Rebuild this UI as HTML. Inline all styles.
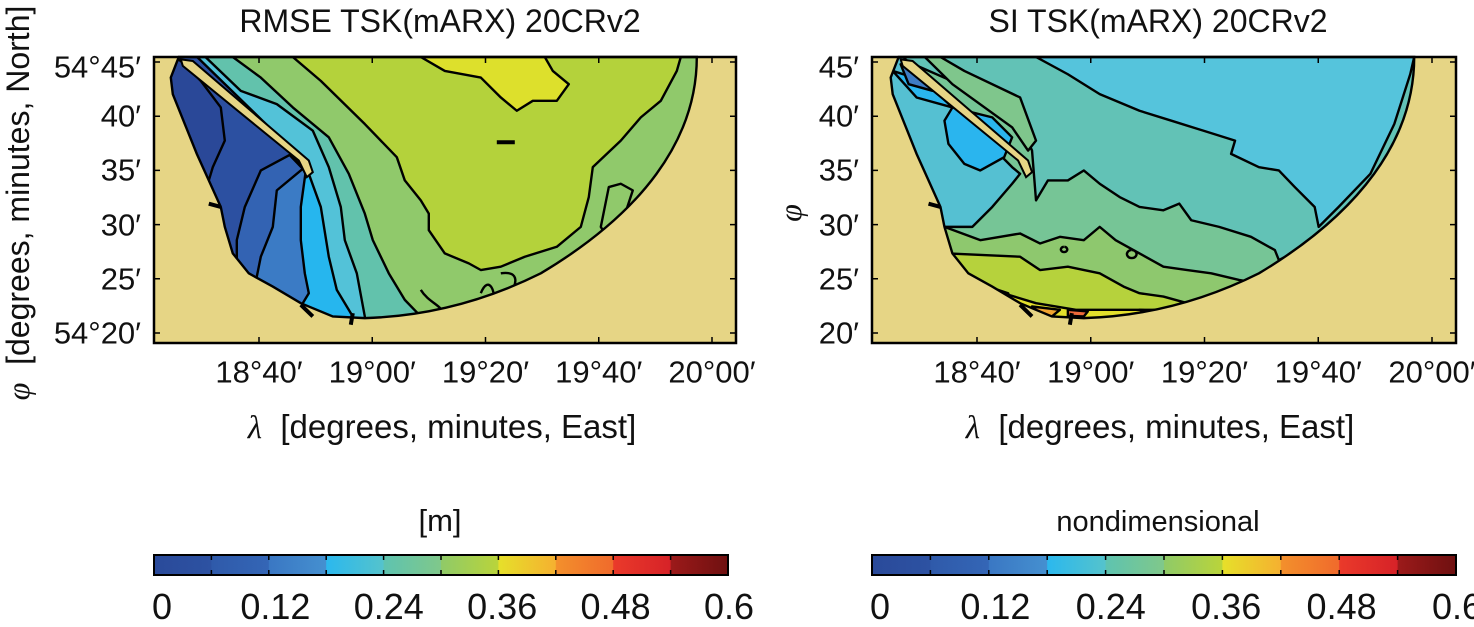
<!DOCTYPE html>
<html><head><meta charset="utf-8">
<style>
body{margin:0;background:#fff;width:1474px;height:623px;overflow:hidden;position:relative;font-family:"Liberation Sans","DejaVu Sans",sans-serif;color:#111}
.t{position:absolute;white-space:nowrap;font-size:25px;line-height:1}
svg{position:absolute;overflow:visible}
</style></head><body>
<div class="t" style="left:440px;top:5px;transform:translateX(-50%);font-size:32px">RMSE TSK(mARX) 20CRv2</div>
<div class="t" style="left:1158px;top:5px;transform:translateX(-50%);font-size:32px">SI TSK(mARX) 20CRv2</div>

<svg id="mapL" style="left:154px;top:57px" width="582" height="286" viewBox="33 48 1455 862" preserveAspectRatio="none">
<defs><clipPath id="seaL"><path id="seaPathL" d="M95,48 L1390,48 C1390,300 1250,520 1000,700 C850,790 700,830 560,835 L480,830 400,790 330,740 270,700 230,640 210,560 200,500 170,420 140,340 110,250 80,160 75,110 Z"/></clipPath></defs>
<rect x="33" y="48" width="1455" height="862" fill="#e6d585"/>
<g clip-path="url(#seaL)" stroke="#000" stroke-width="2.4" vector-effect="non-scaling-stroke" style="stroke-linejoin:round">
<rect x="0" y="0" width="1600" height="1000" fill="#90c96b" vector-effect="non-scaling-stroke"/>
<path fill="#b4d23b" vector-effect="non-scaling-stroke" d="M380,0 L380,48 450,120 560,250 640,350 660,420 700,480 720,520 720,570 760,640 820,670 850,690 900,680 960,650 1040,620 1100,560 1120,470 1130,380 1200,300 1250,230 1300,180 1340,90 1350,48 1350,0Z"/>
<path fill="#dde02c" vector-effect="non-scaling-stroke" d="M700,0 L700,48 760,90 850,110 900,170 940,210 980,180 1040,180 1070,130 1030,90 1010,48 1010,0Z"/>
<path fill="#62c2ac" vector-effect="non-scaling-stroke" d="M0,0 L230,0 230,48 300,110 380,200 470,290 520,400 560,520 580,600 620,700 660,780 700,830 700,1000 0,1000Z"/>
<path fill="#53c2d8" vector-effect="non-scaling-stroke" d="M0,0 L120,0 250,150 340,190 430,270 470,380 500,500 510,600 540,700 560,830 560,1000 0,1000Z"/>
<path fill="#26b6ee" vector-effect="non-scaling-stroke" d="M0,0 L100,0 420,400 450,500 470,650 490,750 530,830 530,1000 0,1000Z"/>
<path fill="#3b7bc5" vector-effect="non-scaling-stroke" d="M0,0 L100,0 412,395 400,500 400,600 410,700 420,760 400,800 0,1000Z"/>
<path fill="#3363b3" vector-effect="non-scaling-stroke" d="M0,0 L100,0 405,385 340,450 330,560 300,650 290,710 0,1000Z"/>
<path fill="#2c50a1" vector-effect="non-scaling-stroke" d="M0,0 L100,0 385,335 300,390 260,500 240,600 240,670 0,1000Z"/>
<path fill="#2a4898" vector-effect="non-scaling-stroke" d="M0,0 L100,60 150,120 200,200 210,300 180,380 170,420 0,1000Z"/>
<path fill="none" vector-effect="non-scaling-stroke" d="M700,750 C720,790 760,800 750,820 M850,760 C870,700 890,760 880,790 M900,700 C950,690 940,740 920,760"/>
<path fill="none" vector-effect="non-scaling-stroke" d="M1170,440 L1200,430 1230,450 1200,560 1170,600 1150,560 Z"/>
</g>
<path d="M100,55 L130,60 420,360 430,395 415,410 395,360 105,75Z" fill="#e6d585" stroke="#000" stroke-width="2" vector-effect="non-scaling-stroke"/>
<path d="M95,48 L1390,48 C1390,300 1250,520 1000,700 C850,790 700,830 560,835 L480,830 400,790 330,740 270,700 230,640 210,560 200,500 170,420 140,340 110,250 80,160 75,110 Z" fill="none" stroke="#000" stroke-width="2.4" vector-effect="non-scaling-stroke"/>
<path d="M890,305 L935,305 M400,795 L430,830 M530,820 L525,855 M170,490 L200,500" stroke="#000" stroke-width="4" vector-effect="non-scaling-stroke"/>
</svg>

<svg id="mapR" style="left:872px;top:57px" width="584" height="286" viewBox="28 48 1467 862" preserveAspectRatio="none">
<defs><clipPath id="seaR"><path d="M95,48 L1390,48 C1390,300 1250,520 1000,700 C850,790 700,830 560,835 L480,830 400,790 330,740 270,700 230,640 210,560 200,500 170,420 140,340 110,250 80,160 75,110 Z"/></clipPath></defs>
<rect x="28" y="48" width="1467" height="862" fill="#e6d585"/>
<g clip-path="url(#seaR)" stroke="#000" stroke-width="2.4" style="stroke-linejoin:round">
<rect x="0" y="0" width="1600" height="1000" fill="#e3df2c" vector-effect="non-scaling-stroke"/>
<path fill="#b6d23c" vector-effect="non-scaling-stroke" d="M0,0 L1600,0 1600,780 980,780 800,810 700,810 540,810 440,790 330,750 230,700 0,700Z"/>
<path fill="#8ec86e" vector-effect="non-scaling-stroke" d="M0,0 L1600,0 1600,740 980,740 900,770 820,790 760,770 700,760 660,740 600,700 520,680 450,690 400,650 220,640 0,640Z"/>
<path fill="#76c596" vector-effect="non-scaling-stroke" d="M0,0 L1600,0 1600,730 1000,730 950,720 880,700 820,690 760,680 700,640 640,600 600,560 560,600 500,590 450,610 400,580 300,600 210,560 0,560Z"/>
<path fill="#62c2b6" vector-effect="non-scaling-stroke" d="M0,0 L1600,0 1600,630 1140,610 1100,630 1050,660 1040,630 980,590 900,560 830,540 800,490 760,510 700,500 650,470 600,430 560,390 520,420 470,420 440,480 430,330 380,200 0,0Z"/>
<path fill="#55c4dc" vector-effect="non-scaling-stroke" d="M440,0 L440,48 520,100 600,160 700,210 780,240 860,270 940,300 930,340 1000,380 1050,390 1090,440 1140,500 1150,560 1200,500 1280,400 1340,250 1380,100 1390,48 1390,0Z"/>
<path fill="#7fc68c" vector-effect="non-scaling-stroke" d="M120,0 L200,48 260,90 400,170 440,300 420,330 380,260 230,130Z"/>
<path fill="#55c0d2" vector-effect="non-scaling-stroke" d="M0,0 L100,40 380,380 400,400 380,430 330,500 280,560 210,560 0,560Z"/>
<path fill="#2ab5ee" vector-effect="non-scaling-stroke" d="M230,200 L330,230 380,290 360,350 300,390 260,370 220,310 210,240Z"/>
<path fill="#2ab5ee" vector-effect="non-scaling-stroke" d="M80,90 L160,120 230,200 140,170Z"/>
<path fill="#3e7cc4" vector-effect="non-scaling-stroke" d="M100,70 L150,100 180,150 120,130Z"/>
<path fill="#ec6a3a" vector-effect="non-scaling-stroke" d="M320,740 L370,760 380,790 340,780Z M520,810 L570,815 560,830 520,828Z"/>
<path fill="#f0a430" vector-effect="non-scaling-stroke" d="M430,800 L500,810 480,830 440,825Z M700,810 L760,815 730,825Z"/>
<path fill="none" vector-effect="non-scaling-stroke" d="M510,620 a8,8 0 1,0 1,0 M680,630 a12,12 0 1,0 1,0"/>
</g>
<path d="M100,55 L130,60 420,360 430,395 415,410 395,360 105,75Z" fill="#e6d585" stroke="#000" stroke-width="2" vector-effect="non-scaling-stroke"/>
<path d="M95,48 L1390,48 C1390,300 1250,520 1000,700 C850,790 700,830 560,835 L480,830 400,790 330,740 270,700 230,640 210,560 200,500 170,420 140,340 110,250 80,160 75,110 Z" fill="none" stroke="#000" stroke-width="2.4" vector-effect="non-scaling-stroke"/>
<path d="M400,795 L430,830 M530,820 L525,855 M170,490 L200,500" stroke="#000" stroke-width="4" vector-effect="non-scaling-stroke"/>
</svg>

<div class="t" style="left:442px;top:410px;transform:translateX(-50%);font-size:33px"><i style="font-family:'Liberation Serif',serif">λ</i>&nbsp;&nbsp;[degrees, minutes, East]</div>
<div class="t" style="left:1160px;top:410px;transform:translateX(-50%);font-size:33px"><i style="font-family:'Liberation Serif',serif">λ</i>&nbsp;&nbsp;[degrees, minutes, East]</div>
<div class="t" style="left:18px;top:203px;transform:translate(-50%,-50%) rotate(-90deg);font-size:32px"><i style="font-family:'Liberation Serif',serif">φ</i>&nbsp;&nbsp;[degrees, minutes, North]</div>
<div class="t" style="left:790px;top:213px;transform:translate(-50%,-50%) rotate(-90deg);font-size:32px"><i style="font-family:'Liberation Serif',serif">φ</i></div>
<div class="t" style="left:440px;top:505px;transform:translateX(-50%);font-size:31px">[m]</div>
<div class="t" style="left:1158px;top:508px;transform:translateX(-50%);font-size:29px">nondimensional</div>
<div id="labels"></div>

<script>
const yTickLabelsL=["54°45′","40′","35′","30′","25′","54°20′"];
const yTickLabelsR=["45′","40′","35′","30′","25′","20′"];
const yTickVals=[45,40,35,30,25,20];
const xTickLabels=["18°40′","19°00′","19°20′","19°40′","20°00′"];
const xTickVals=[40,60,80,100,120];
const cbTickVals=[0,0.12,0.24,0.36,0.48,0.6];
const cbTickLabels=["0","0.12","0.24","0.36","0.48","0.6"];
const cbColors=["#2a4a9a","#2f5aaa","#3a77c3","#2bb8ee","#5ec3b0","#8fca68","#e6e02a","#f3902c","#ea3a2a","#9c1a1a"];
const cbColorsEnd=["#2d52a2","#3466b6","#4590d0","#55c3cc","#80c88a","#bad43a","#f5b030","#f06a2c","#d62228","#6e1010"];

const lab=document.getElementById('labels');
function txt(x,y,s,anchor,name,size){
  const d=document.createElement('div');
  d.className='t';
  d.textContent=s;
  d.style.left=x+'px';d.style.top=y+'px';
  d.style.fontSize=(size||25)+'px';
  d.style.transform=anchor==='r'?'translate(-100%,-50%)':'translate(-50%,-50%)';
  
  
  lab.appendChild(d);
}
function yScale(v){return 333+(v-20)*(62-333)/25;}
function panel(left,right,ylabels,prefix){
  const s=(v)=>left+105+(v-40)*(right-left-105-24)/80;
  xTickVals.forEach((v,i)=>txt(s(v),372,xTickLabels[i],'c',prefix+'-x-tick-label',31));
  yTickVals.forEach((v,i)=>txt(left-13,yScale(v)+(i===0?5:0),ylabels[i],'r',prefix+'-y-tick-label',31));
  const ns='http://www.w3.org/2000/svg';
  const svg=document.createElementNS(ns,'svg');
  svg.setAttribute('width',1474);svg.setAttribute('height',623);
  svg.style.left='0px';svg.style.top='0px';
  
  
  let d='';
  xTickVals.forEach(v=>{const x=s(v);d+=`M${x},343v-6M${x},57v6`;});
  yTickVals.forEach(v=>{const y=yScale(v);d+=`M${left},${y}h6M${right},${y}h-6`;});
  svg.innerHTML=`<rect x="${left}" y="57" width="${right-left}" height="286" fill="none" stroke="#000" stroke-width="2.5"/><path d="${d}" stroke="#000" stroke-width="1.5"/>`;
  document.body.appendChild(svg);
}
panel(154,736,yTickLabelsL,'left');
panel(872,1456,yTickLabelsR,'right');

function colorbar(left,right,prefix){
  const ns='http://www.w3.org/2000/svg';
  const svg=document.createElementNS(ns,'svg');
  svg.setAttribute('width',1474);svg.setAttribute('height',623);
  svg.style.left='0px';svg.style.top='0px';
  
  
  const w=(right-left)/cbColors.length;
  let h='<defs>';
  cbColors.forEach((c,i)=>{h+=`<linearGradient id="${prefix}g${i}"><stop offset="0" stop-color="${c}"/><stop offset="1" stop-color="${cbColorsEnd[i]}"/></linearGradient>`;});
  h+='</defs>';
  cbColors.forEach((c,i)=>{h+=`<rect x="${left+i*w}" y="555" width="${w+0.5}" height="20" fill="url(#${prefix}g${i})"/>`;});
  let d='';
  for(let i=1;i<cbColors.length;i++){const x=left+i*w;d+=`M${x},555v5M${x},575v-5`;}
  h+=`<path d="${d}" stroke="#000" stroke-width="1.5"/><rect x="${left}" y="555" width="${right-left}" height="20" fill="none" stroke="#000" stroke-width="2"/>`;
  svg.innerHTML=h;
  document.body.appendChild(svg);
  cbTickVals.forEach((v,i)=>txt(left+8+v/0.6*(right-left-7),607,cbTickLabels[i],'c',prefix+'-colorbar-tick-label',36));
}
colorbar(154,728,'left');
colorbar(872,1456,'right');
</script>
</body></html>
